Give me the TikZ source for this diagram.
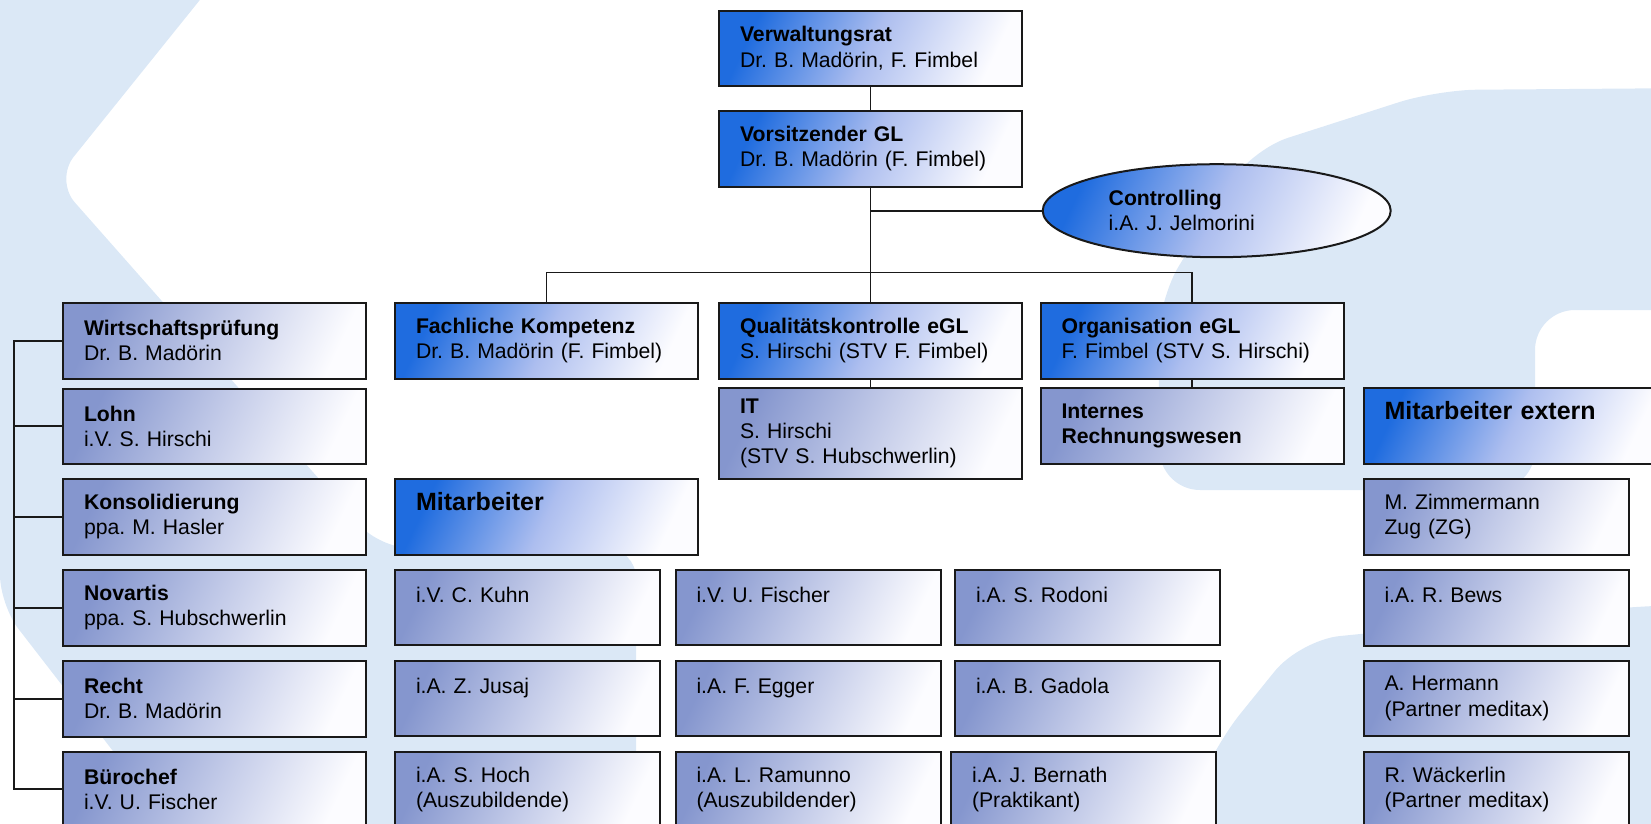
\documentclass[tikz,border=0pt]{standalone}
\usepackage{fontspec}
\setmainfont{Liberation Sans}
\frenchspacing
\usetikzlibrary{shapes.geometric}

\definecolor{headblue}{HTML}{1F6CDF}
\definecolor{headmid}{HTML}{ADBEEF}
\definecolor{staffblue}{HTML}{8596CE}
\definecolor{staffmid}{HTML}{C2CAE8}
\definecolor{boxwhite}{HTML}{FCFCFF}
\definecolor{bgblue}{HTML}{DBE8F6}

\newcommand{\orgfont}{\fontsize{21.2}{25.3}\selectfont}
\newcommand{\bigfont}{\fontsize{25}{30}\selectfont\bfseries}

\begin{document}
\begin{tikzpicture}[x=1pt, y=-1pt,
            every node/.style={rectangle, draw=black!90, line width=2pt, anchor=north west,
              inner xsep=21pt, inner ysep=0pt, minimum width=303pt, text width=261pt,
              minimum height=75.5pt, align=left, font=\orgfont},
            edge_style/.style={draw=black!90, line width=1.8pt}]
            \tikzset{head box/.style={top color=headblue, bottom color=boxwhite, middle color=headmid, shading angle=65}}
            \tikzset{staff box/.style={top color=staffblue, bottom color=boxwhite, middle color=staffmid, shading angle=65}}
            \tikzset{slim/.style={minimum width=265pt, text width=223pt}}
            \useasboundingbox (0, 0) rectangle (1651, 823);
            % Hintergrund
            \fill [bgblue, rounded corners=30pt] (0, -40) -- (232, -40) -- (55, 180) -- (380, 548) -- (636, 548)
                  -- (636, 870) -- (205, 870) -- (0, 605) -- cycle;
            \fill [bgblue, rounded corners=40pt] (1160, 490) -- (1158, 300) -- (1250, 150) -- (1437, 90)
                  -- (1700, 88) -- (1700, 310) -- (1535, 310) -- (1535, 490) -- cycle;
            \fill [bgblue, rounded corners=40pt] (1165, 870) -- (1215, 745) -- (1300, 640) -- (1651, 605)
                  -- (1700, 605) -- (1700, 870) -- cycle;
            % Leitung
            \node [head box] (vr) at (718, 9.5) {\textbf{Verwaltungsrat}\\Dr. B. Madörin, F. Fimbel};
            \node [head box] (vgl) at (718, 110) {\textbf{Vorsitzender GL}\\Dr. B. Madörin (F. Fimbel)};
            \node [head box, ellipse, anchor=center, minimum width=348pt, minimum height=93pt,
                   inner sep=0pt, text width=216pt] (ctrl) at (1216.7, 210.7) {\textbf{Controlling}\\i.A. J. Jelmorini};
            \node [head box] (fk) at (394, 302) {\textbf{Fachliche Kompetenz}\\Dr. B. Madörin (F. Fimbel)};
            \node [head box] (qk) at (718, 302) {\textbf{Qualitätskontrolle eGL}\\S. Hirschi (STV F. Fimbel)};
            \node [head box] (org) at (1039.5, 302) {\textbf{Organisation eGL}\\F. Fimbel (STV S. Hirschi)};
            \node [staff box, minimum height=91pt] (it) at (718, 387) {\textbf{IT}\\S. Hirschi\\(STV S. Hubschwerlin)};
            \node [staff box] (irw) at (1039.5, 387) {\textbf{Internes}\\\textbf{Rechnungswesen}};
            % linke Spalte
            \node [staff box] (wp) at (62, 302) {\textbf{Wirtschaftsprüfung}\\Dr. B. Madörin};
            \node [staff box] (lohn) at (62, 387.5) {\textbf{Lohn}\\i.V. S. Hirschi};
            \node [staff box] (kons) at (62, 478) {\textbf{Konsolidierung}\\ppa. M. Hasler};
            \node [staff box] (nov) at (62, 569) {\textbf{Novartis}\\ppa. S. Hubschwerlin};
            \node [staff box] (recht) at (62, 660) {\textbf{Recht}\\Dr. B. Madörin};
            \node [staff box] (bc) at (62, 750.5) {\textbf{Bürochef}\\i.V. U. Fischer};
            % Mitarbeiter
            \node [head box, font=\bigfont] (ma) at (394, 478) {Mitarbeiter\\\mbox{}};
            \node [staff box, slim] (kuhn) at (394, 568.5) {i.V. C. Kuhn\\\mbox{}};
            \node [staff box, slim] (fischer) at (674.5, 568.5) {i.V. U. Fischer\\\mbox{}};
            \node [staff box, slim] (rodoni) at (954, 568.5) {i.A. S. Rodoni\\\mbox{}};
            \node [staff box, slim] (jusaj) at (394, 659.5) {i.A. Z. Jusaj\\\mbox{}};
            \node [staff box, slim] (egger) at (674.5, 659.5) {i.A. F. Egger\\\mbox{}};
            \node [staff box, slim] (gadola) at (954, 659.5) {i.A. B. Gadola\\\mbox{}};
            \node [staff box, slim] (hoch) at (394, 750.5) {i.A. S. Hoch\\(Auszubildende)};
            \node [staff box, slim] (ramunno) at (674.5, 750.5) {i.A. L. Ramunno\\(Auszubildender)};
            \node [staff box, slim] (bernath) at (950, 750.5) {i.A. J. Bernath\\(Praktikant)};
            % Mitarbeiter extern
            \node [head box, font=\bigfont, minimum width=300pt, text width=258pt] (mex) at (1362.5, 387) {Mitarbeiter extern\\\mbox{}};
            \node [staff box, slim] (zimm) at (1362.5, 478) {M. Zimmermann\\Zug (ZG)};
            \node [staff box, slim] (bews) at (1362.5, 569) {i.A. R. Bews\\\mbox{}};
            \node [staff box, slim] (herm) at (1362.5, 659.5) {A. Hermann\\(Partner meditax)};
            \node [staff box, slim] (waeck) at (1362.5, 750.5) {R. Wäckerlin\\(Partner meditax)};
            % Linien
            \coordinate (bar) at (869.5, 272.5);
            \coordinate (rail) at (14, 0);
            \draw [edge_style] (vr) -- (vgl);
            \draw [edge_style] (vgl) -- (qk);
            \draw [edge_style] (vgl.south |- ctrl.west) -- (ctrl.west);
            \draw [edge_style] (fk.north) |- (bar) -| (org.north);
            \draw [edge_style] (qk) -- (it);
            \draw [edge_style] (org) -- (irw);
            \draw [edge_style] (wp.west) -| (rail |- bc.west) -- (bc.west);
            \draw [edge_style] (lohn.west) -- (rail |- lohn.west);
            \draw [edge_style] (kons.west) -- (rail |- kons.west);
            \draw [edge_style] (nov.west) -- (rail |- nov.west);
            \draw [edge_style] (recht.west) -- (rail |- recht.west);
        \end{tikzpicture}
\end{document}
